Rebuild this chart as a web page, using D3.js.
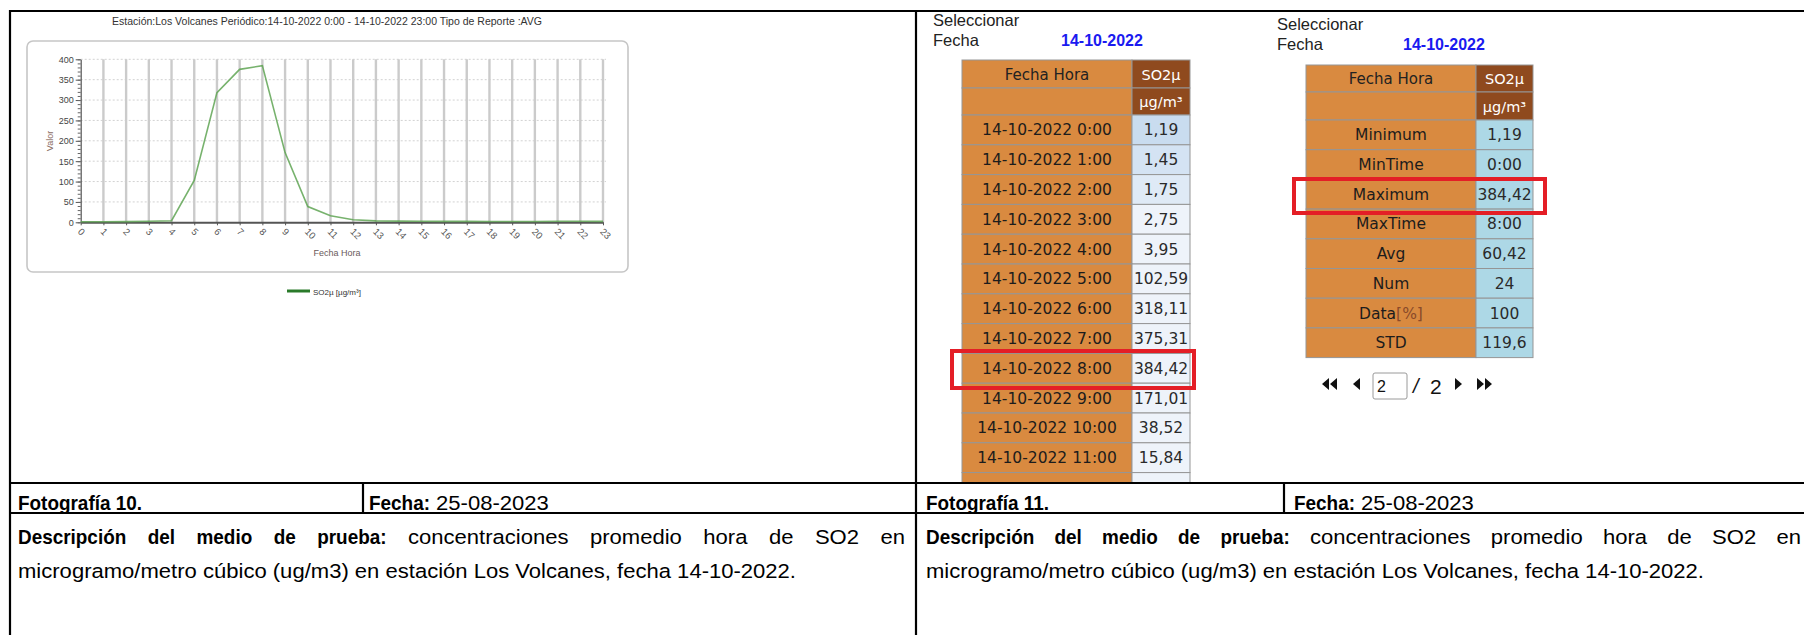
<!DOCTYPE html>
<html><head><meta charset="utf-8">
<script src="https://cdn.jsdelivr.net/npm/d3@7/dist/d3.min.js"></script>
<style>html,body{margin:0;padding:0;background:#fff;}svg{display:block;}</style>
</head><body>
<svg id="c" width="1804" height="635"></svg>
<script>
// ---------------- DATA ----------------
const hours = [0,1,2,3,4,5,6,7,8,9,10,11,12,13,14,15,16,17,18,19,20,21,22,23];
const so2 = [1.19,1.45,1.75,2.75,3.95,102.59,318.11,375.31,384.42,171.01,38.52,15.84,
             6.2,3.6,3.0,2.5,2.3,2.2,2.1,2.0,2.1,2.4,2.5,2.3];
const yTickValues = [0,50,100,150,200,250,300,350,400];
const chartTitle = "Estación:Los  Volcanes Periódico:14-10-2022 0:00 - 14-10-2022 23:00 Tipo de Reporte :AVG";
const dateLabel = "14-10-2022";
const tableRowCount = 12;
const statLabels = ["Minimum","MinTime","Maximum","MaxTime","Avg","Num","Data","STD"];
const statValues = ["1,19","0:00","384,42","8:00","60,42","24","100","119,6"];
const photoLeft = "Fotografía 10.";
const photoRight = "Fotografía 11.";
const photoDate = "25-08-2023";
const descLine1 = [["Descripción",1],["del",1],["medio",1],["de",1],["prueba:",1],
                   ["concentraciones",0],["promedio",0],["hora",0],["de",0],["SO2",0],["en",0]];
const descLine2 = "microgramo/metro cúbico (ug/m3) en estación Los Volcanes, fecha 14-10-2022.";

// ---------------- SETUP ----------------
const svg = d3.select("#c");
svg.append("rect").attr("width",1804).attr("height",635).attr("fill","#fff");
const defs = svg.append("defs");
defs.append("clipPath").attr("id","clipCell").append("rect")
  .attr("x",917).attr("y",12).attr("width",900).attr("height",470);
const fmt = v => d3.format(".2f")(v).replace(".",",");
const chartFont = "'Liberation Sans', Arial, sans-serif";

// ---------------- CHART ----------------
const chart = svg.append("g");
chart.append("rect").attr("x",27).attr("y",41).attr("width",601).attr("height",231)
  .attr("rx",6).attr("fill","#fff").attr("stroke","#c6c6c6").attr("stroke-width",1.6);
chart.append("text").attr("x",112).attr("y",24.5).attr("textLength",430)
  .attr("lengthAdjust","spacingAndGlyphs").style("font-family",chartFont).style("font-size","10.5px")
  .attr("fill","#333").text(chartTitle);

const x = d3.scalePoint().domain(hours).range([80.7,603]);
const y = d3.scaleLinear().domain([0,400]).range([222.3,59.3]);

chart.append("g").selectAll("line").data(yTickValues.filter(v=>v>0)).join("line")
  .attr("x1",80.7).attr("x2",606).attr("y1",d=>y(d)).attr("y2",d=>y(d))
  .attr("stroke","#d2d2d2").attr("stroke-dasharray","2,2");
chart.append("g").selectAll("line").data(hours.filter(h=>h>0)).join("line")
  .attr("x1",d=>x(d)).attr("x2",d=>x(d)).attr("y1",y(400)).attr("y2",y(0))
  .attr("stroke","#cbcbcb").attr("stroke-width",2.4);

const yAxis = chart.append("g").attr("transform","translate(80.7,0)")
  .call(d3.axisLeft(y).tickValues(yTickValues).tickSize(5).tickSizeOuter(0).tickPadding(2).tickFormat(d3.format("d")));
yAxis.select(".domain").attr("stroke","#555").attr("stroke-width",1.2);
yAxis.selectAll(".tick line").attr("stroke","#555");
yAxis.selectAll("text").style("font-family",chartFont).style("font-size","9px").attr("fill","#444");
chart.append("g").attr("transform","translate(80.7,0)")
  .call(d3.axisLeft(y).tickValues(d3.range(0,401,10)).tickSize(3).tickSizeOuter(0).tickFormat(""))
  .call(g=>g.select(".domain").remove())
  .selectAll("line").attr("stroke","#666");

const xAxis = chart.append("g").attr("transform",`translate(0,${y(0)})`)
  .call(d3.axisBottom(x).tickSize(3).tickSizeOuter(0).tickFormat(d=>String(d)));
xAxis.select(".domain").attr("stroke","#555").attr("stroke-width",2);
xAxis.selectAll(".tick line").attr("stroke","#555");
xAxis.selectAll("text").attr("x",0).attr("y",0).attr("dy",0)
  .attr("text-anchor","start").attr("transform","translate(-4,10) rotate(45)")
  .style("font-family",chartFont).style("font-size","9.5px").attr("fill","#555");

chart.append("path").datum(so2)
  .attr("d",d3.line().x((d,i)=>x(hours[i])).y(d=>y(d)))
  .attr("fill","none").attr("stroke","#5fa553").attr("stroke-opacity",0.85).attr("stroke-width",1.6);

chart.append("text").attr("transform","translate(53,141) rotate(-90)").attr("text-anchor","middle")
  .style("font-family",chartFont).style("font-size","9px").attr("fill","#8a6d64").text("Valor");
chart.append("text").attr("x",337).attr("y",256).attr("text-anchor","middle")
  .style("font-family",chartFont).style("font-size","9px").attr("fill","#6a5a5a").text("Fecha Hora");

chart.append("line").attr("x1",287).attr("x2",310).attr("y1",291).attr("y2",291)
  .attr("stroke","#2a7a2a").attr("stroke-width",3);
chart.append("text").attr("x",313).attr("y",294.5)
  .style("font-family",chartFont).style("font-size","8px").attr("fill","#333").text("SO2µ [µg/m³]");

// ---------------- WEB TABLES ----------------
const orange = "#D98A40", brown = "#8F4A1E", cellBorder = "#959595";
const tblFont = "'DejaVu Sans', Verdana, sans-serif";
const cellG = svg.append("g").attr("clip-path","url(#clipCell)");

function selector(g, x0, yTop, dateX) {
  g.append("text").attr("x",x0).attr("y",yTop).style("font-family",chartFont).style("font-size","16.5px")
    .attr("fill","#222").text("Seleccionar");
  g.append("text").attr("x",x0).attr("y",yTop+20).style("font-family",chartFont).style("font-size","16.5px")
    .attr("fill","#222").text("Fecha");
  g.append("text").attr("x",dateX).attr("y",yTop+20).style("font-family",chartFont).style("font-size","16px")
    .style("font-weight","bold").attr("fill","#1a1af0").text(dateLabel);
}

function header(g, L) {
  g.append("rect").attr("x",L.x0).attr("y",L.h1).attr("width",L.xm-L.x0).attr("height",L.h2-L.h1).attr("fill",orange).attr("stroke",cellBorder);
  g.append("rect").attr("x",L.xm).attr("y",L.h1).attr("width",L.x1-L.xm).attr("height",L.h2-L.h1).attr("fill",brown).attr("stroke",cellBorder);
  g.append("rect").attr("x",L.x0).attr("y",L.h2).attr("width",L.xm-L.x0).attr("height",L.top-L.h2).attr("fill",orange).attr("stroke",cellBorder);
  g.append("rect").attr("x",L.xm).attr("y",L.h2).attr("width",L.x1-L.xm).attr("height",L.top-L.h2).attr("fill",brown).attr("stroke",cellBorder);
  g.append("text").attr("x",(L.x0+L.xm)/2).attr("y",(L.h1+L.h2)/2+5.5).attr("text-anchor","middle")
    .style("font-family",tblFont).style("font-size","15px").attr("fill","#222").text("Fecha Hora");
  g.append("text").attr("x",(L.xm+L.x1)/2).attr("y",(L.h1+L.h2)/2+5.5).attr("text-anchor","middle")
    .style("font-family",tblFont).style("font-size","14.5px").attr("fill","#fff").text("SO2µ");
  g.append("text").attr("x",(L.xm+L.x1)/2).attr("y",(L.h2+L.top)/2+5.5).attr("text-anchor","middle")
    .style("font-family",tblFont).style("font-size","14.5px").attr("fill","#fff").text("µg/m³");
}

function rows(g, L, data, fillFn) {
  const r = g.append("g").selectAll("g").data(data).join("g")
    .attr("transform",(d,i)=>`translate(0,${L.top+i*L.rh})`);
  r.append("rect").attr("x",L.x0).attr("width",L.xm-L.x0).attr("height",L.rh).attr("fill",orange).attr("stroke",cellBorder);
  r.append("rect").attr("x",L.xm).attr("width",L.x1-L.xm).attr("height",L.rh).attr("fill",(d,i)=>fillFn(i)).attr("stroke",cellBorder);
  const lt = r.append("text").attr("x",(L.x0+L.xm)/2).attr("y",L.rh/2+5.5).attr("text-anchor","middle")
    .style("font-family",tblFont).style("font-size","15.5px").attr("fill","#1c1c1c");
  lt.append("tspan").text(d=>d.label);
  lt.filter(d=>d.label==="Data").append("tspan").attr("fill","#8a4a2a").text("[%]");
  r.append("text").attr("x",(L.xm+L.x1)/2).attr("y",L.rh/2+5.5).attr("text-anchor","middle")
    .style("font-family",tblFont).style("font-size","15.5px").attr("fill","#2a2a2a").text(d=>d.value);
}

// Table A (hourly values)
const LA = {x0:962, xm:1132, x1:1190, h1:60, h2:88, top:115, rh:29.8};
selector(cellG, 933, 26, 1061);
const dataA = hours.slice(0,tableRowCount).map((h,i)=>({label:`${dateLabel} ${h}:00`, value:fmt(so2[i])}));
dataA.push({label:"", value:""});
header(cellG, LA);
const blueFill = i => i < 3 ? d3.interpolateRgb("#c9dcef","#eaf1fa")(i/3) : "#eef3fa";
rows(cellG, LA, dataA, blueFill);
cellG.append("rect").attr("x",952).attr("y",351).attr("width",242).attr("height",37)
  .attr("fill","none").attr("stroke","#e41e26").attr("stroke-width",4);

// Table B (statistics)
const LB = {x0:1306, xm:1476, x1:1533, h1:65, h2:92, top:120, rh:29.7};
selector(cellG, 1277, 30, 1403);
header(cellG, LB);
rows(cellG, LB, statLabels.map((s,i)=>({label:s, value:statValues[i]})), ()=>"#ADD8E6");
cellG.append("rect").attr("x",1294).attr("y",179).attr("width",251).attr("height",34)
  .attr("fill","none").attr("stroke","#e41e26").attr("stroke-width",4);

// pagination
const pg = cellG.append("g").attr("fill","#111");
const triL = (x0,yc)=>`M${x0+7},${yc-6}L${x0},${yc}L${x0+7},${yc+6}Z`;
const triR = (x0,yc)=>`M${x0},${yc-6}L${x0+7},${yc}L${x0},${yc+6}Z`;
pg.append("path").attr("d",triL(1322,384)+triL(1330,384));
pg.append("path").attr("d",triL(1353,384));
pg.append("rect").attr("x",1373).attr("y",373).attr("width",34).attr("height",26).attr("rx",2)
  .attr("fill","#fff").attr("stroke","#9a9a9a");
pg.append("text").attr("x",1377).attr("y",392).style("font-family",chartFont).style("font-size","16px").text("2");
pg.append("text").attr("x",1413).attr("y",393).style("font-family",chartFont).style("font-size","20px")
  .style("font-style","italic").text("/");
pg.append("text").attr("x",1430).attr("y",394).style("font-family",chartFont).style("font-size","21px")
  .text("2");
pg.append("path").attr("d",triR(1455,384));
pg.append("path").attr("d",triR(1477,384)+triR(1485,384));

// ---------------- DOCUMENT TABLE ----------------
const docFont = "'Liberation Sans', Arial, sans-serif";
const docSize = "20.5px";
function measure(txt, bold) {
  const t = svg.append("text").style("font-family",docFont).style("font-size",docSize)
    .style("font-weight",bold?"bold":"normal").style("white-space","pre").text(txt);
  const w = t.node().getComputedTextLength(); t.remove(); return w;
}
const sR = 778 / measure(descLine2, false);
const sB = 124 / measure(photoLeft, true);
const scaleOf = b => b ? sB : sR;
function docText(txt, x0, yb, bold) {
  const w = measure(txt, bold) * scaleOf(bold);
  svg.append("text").attr("x",x0).attr("y",yb).attr("textLength",w).attr("lengthAdjust","spacingAndGlyphs")
    .style("font-family",docFont).style("font-size",docSize).style("font-weight",bold?"bold":"normal")
    .attr("fill","#000").text(txt);
  return w;
}
function justify(words, x0, x1, yb) {
  const ws = words.map(([t,b])=>measure(t,b)*scaleOf(b));
  const gap = (x1 - x0 - d3.sum(ws)) / (words.length - 1);
  let cx = x0;
  words.forEach(([t,b],i)=>{ docText(t, cx, yb, b); cx += ws[i] + gap; });
}
const spaceW = (measure("a b",false) - measure("ab",false)) * sR;
[{x:18, xd:369, photo:photoLeft, end:905}, {x:926, xd:1294, photo:photoRight, end:1801}].forEach(c=>{
  docText(c.photo, c.x, 510, true);
  const wf = docText("Fecha:", c.xd, 510, true);
  docText(photoDate, c.xd + wf + spaceW, 510, false);
  justify(descLine1, c.x, c.end, 543.5);
  docText(descLine2, c.x, 577.5, false);
});

const borders = svg.append("g").attr("stroke","#000").attr("stroke-width",2.2);
[[9,11,1804,11],[10,10,10,635],[916,10,916,635],[9,483,1804,483],[9,513,1804,513],
 [363,483,363,513],[1284,483,1284,513]].forEach(([a,b,c,d])=>
  borders.append("line").attr("x1",a).attr("y1",b).attr("x2",c).attr("y2",d));
</script>
</body></html>
